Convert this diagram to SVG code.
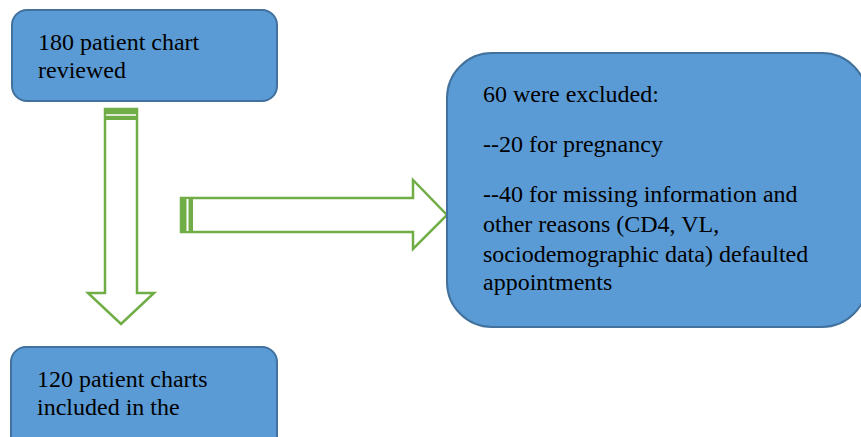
<svg xmlns="http://www.w3.org/2000/svg" width="861" height="437" viewBox="0 0 861 437">
<style>
.box{fill:#5B9BD5;stroke:#41719C;stroke-width:2}
.arrow{fill:#fff;stroke:#70AD47;stroke-width:2.5;stroke-linejoin:miter}
.band{fill:#70AD47}
text{font-family:"Liberation Serif","Times New Roman",serif;font-size:24px;fill:#000}
</style>
<rect width="861" height="437" fill="#fff"/>
<g id="connectors">
<g id="down-arrow">
<polygon class="arrow" points="105,109 137,109 137,293 154,293 121,324 88,293 105,293"/>
<rect class="band" x="104" y="108" width="34" height="12"/>
<line x1="106" y1="115" x2="136" y2="115" stroke="#fff" stroke-width="1.5"/>
</g>
<g id="right-arrow">
<polygon class="arrow" points="181,198 413,198 413,180 447,215 413,249 413,232 181,232"/>
<rect class="band" x="180" y="197" width="13" height="36"/>
<line x1="187.5" y1="199" x2="187.5" y2="231" stroke="#fff" stroke-width="2"/>
</g>
</g>
<g id="node-reviewed">
<rect class="box" x="12" y="10" width="265" height="91" rx="15"/>
<text x="38" y="50">180 patient chart</text>
<text x="38" y="78">reviewed</text>
</g>
<g id="node-excluded">
<rect class="box" x="447" y="53" width="420" height="274" rx="45"/>
<text x="483" y="102">60 were excluded:</text>
<text x="483" y="152">--20 for pregnancy</text>
<text x="483" y="202">--40 for missing information and</text>
<text x="483" y="232">other reasons (CD4, VL,</text>
<text x="483" y="262">sociodemographic data) defaulted</text>
<text x="483" y="290">appointments</text>
</g>
<g id="node-included">
<rect class="box" x="11" y="347" width="266" height="110" rx="15"/>
<text x="37" y="387">120 patient charts</text>
<text x="37" y="415">included in the</text>
</g>
</svg>
